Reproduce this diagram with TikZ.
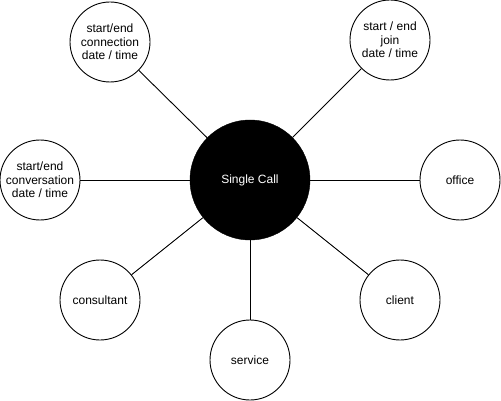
\documentclass[tikz,border=0pt]{standalone}
\usepackage{fontspec}
\setmainfont{Liberation Sans}
\usepackage{tikz}
\usetikzlibrary{calc}
\definecolor{ink}{HTML}{000000}
\definecolor{paper}{HTML}{FFFFFF}
\tikzset{
  line/.style={draw=ink, line width=0.9pt},
  hub/.style={circle, fill=ink, draw=ink, minimum size=120pt, inner sep=0pt, text=paper, font=\fontsize{12}{13.5}\selectfont},
  attr/.style={circle, draw=ink, fill=paper, line width=0.9pt, minimum size=80pt, inner sep=0pt, align=center, text=ink, font=\fontsize{12}{13.5}\selectfont}
}

\begin{document}
\begin{tikzpicture}[x=1pt, y=-1pt]
  \useasboundingbox (0,0) rectangle (501,401);

  \node[hub] (call) at (250,180) {Single Call};

  \node[attr] (conn) at (110,42) {start/end\\connection\\date / time};
  \node[attr] (join) at (390,40) {start / end\\join\\date / time};
  \node[attr] (conv) at (40,180) {start/end\\conversation\\date / time};
  \node[attr] (office) at (460,180) {office};
  \node[attr] (consultant) at (100,300) {consultant};
  \node[attr] (client) at (400,300) {client};
  \node[attr] (service) at (250,360) {service};

  \foreach \n in {conn,join,conv,office,consultant,client,service}
    \draw[line] (call) -- (\n);
\end{tikzpicture}
\end{document}
